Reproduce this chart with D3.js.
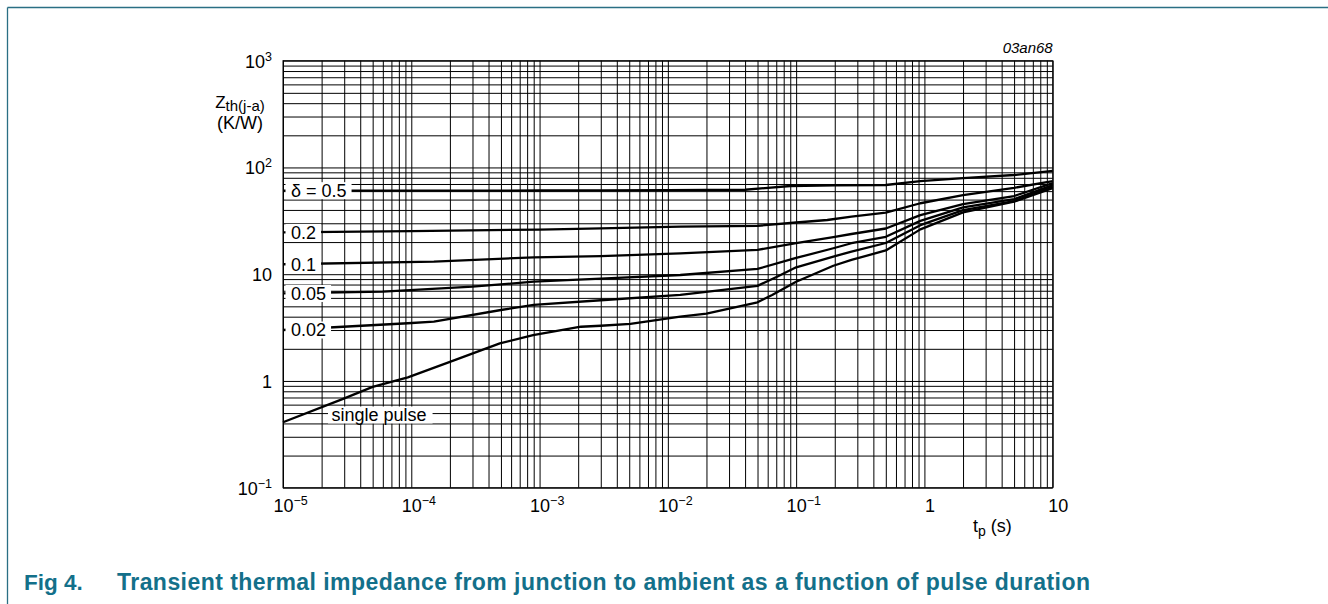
<!DOCTYPE html>
<html>
<head>
<meta charset="utf-8">
<script src="https://cdn.jsdelivr.net/npm/d3@7"></script>
<style>
  body { margin: 0; background: #fff; }
  svg { display: block; font-family: "Liberation Sans", Arial, Helvetica, sans-serif; }
</style>
</head>
<body>
<svg id="chart" width="1328" height="604"></svg>
<script>
// Transient thermal impedance Zth(j-a) (K/W) versus pulse duration tp (s), per duty cycle
const tp05  = [1e-5, 1e-4, 1e-3, 3e-3, 0.01, 0.04, 0.09, 0.2, 0.5, 0.93, 2, 5, 10];
const zth05 = [60.6, 60.6, 60.8, 61.0, 61.2, 61.8, 67.0, 68.0, 68.5, 74.5, 79.3, 85, 92.8];

const tp02  = [1e-5, 1e-4, 1e-3, 3e-3, 0.0125, 0.05, 0.1, 0.175, 0.27, 0.5, 0.93, 2, 5, 10];
const zth02 = [24.6, 25.3, 26.2, 26.9, 27.9, 28.4, 30.5, 32.2, 34.6, 37.7, 46.2, 55.1, 64.4, 74.6];

const tp01  = [1e-5, 1.5e-4, 9e-4, 3e-3, 0.0125, 0.05, 0.1, 0.195, 0.27, 0.5, 0.93, 2, 5, 10];
const zth01 = [12.4, 13.1, 14.4, 14.8, 15.7, 16.9, 19.5, 22.2, 23.8, 26.8, 35.8, 45.4, 54.0, 71.4];

const tp005  = [1e-5, 6e-5, 3e-4, 9e-4, 3e-3, 0.0125, 0.05, 0.1, 0.195, 0.27, 0.5, 0.93, 2, 5, 10];
const zth005 = [6.6, 6.86, 7.64, 8.51, 9.1, 9.83, 11.2, 14.2, 17.5, 19.5, 22.4, 31.6, 42.2, 50.5, 68.4];

const tp002  = [1e-5, 9.4e-5, 1.5e-4, 5e-4, 9e-4, 3e-3, 0.0125, 0.05, 0.071, 0.1, 0.195, 0.27, 0.5, 0.93, 2, 5, 10];
const zth002 = [3.0, 3.47, 3.59, 4.62, 5.15, 5.7, 6.39, 7.77, 9.48, 11.6, 14.6, 16.3, 19.6, 28.8, 39.9, 48.3, 66.2];

const tpSingle  = [1e-5, 2.94e-5, 5e-5, 9.4e-5, 2e-4, 4.9e-4, 8.9e-4, 2.1e-3, 3e-3, 5.1e-3, 0.0125, 0.02, 0.05, 0.065, 0.1, 0.195, 0.27, 0.5, 0.93, 2, 5, 10];
const zthSingle = [0.41, 0.68, 0.88, 1.08, 1.51, 2.25, 2.69, 3.22, 3.29, 3.42, 4.0, 4.27, 5.45, 6.39, 8.5, 12.0, 13.6, 16.7, 26.3, 37.9, 47.8, 64.1];

const curveLabels = ["\u03B4 = 0.5", "0.2", "0.1", "0.05", "0.02", "single pulse"];

// decade tick labels: [mantissa, exponent]
const xDecades = [1e-5, 1e-4, 1e-3, 1e-2, 1e-1, 1, 10];
const xTickLabels = [["10", "\u22125"], ["10", "\u22124"], ["10", "\u22123"], ["10", "\u22122"], ["10", "\u22121"], ["1", ""], ["10", ""]];
const yDecades = [0.1, 1, 10, 100, 1000];
const yTickLabels = [["10", "\u22121"], ["1", ""], ["10", ""], ["10", "2"], ["10", "3"]];

const series = [
  { t: tp05, z: zth05 },
  { t: tp02, z: zth02 },
  { t: tp01, z: zth01 },
  { t: tp005, z: zth005 },
  { t: tp002, z: zth002 },
  { t: tpSingle, z: zthSingle }
];

// ---- layout ----
const plotL = 283, plotR = 1052.7, plotT = 60.7, plotB = 487.7;
const svg = d3.select("#chart");

const x = d3.scaleLog().domain([1e-5, 10]).range([plotL, plotR]);
const y = d3.scaleLog().domain([0.1, 1000]).range([plotB, plotT]);

// full log grid: 1..9 in every decade
const xGrid = [];
for (let e = -5; e <= 0; e++) for (let k = 1; k <= 9; k++) xGrid.push(k * Math.pow(10, e));
xGrid.push(10);
const yGrid = [];
for (let e = -1; e <= 2; e++) for (let k = 1; k <= 9; k++) yGrid.push(k * Math.pow(10, e));
yGrid.push(1000);

// page frame
const teal = "#13708a";
svg.append("line").attr("x1", 7.5).attr("y1", 7.5).attr("x2", 1328).attr("y2", 7.5)
  .attr("stroke", "#2a6f84").attr("stroke-width", 1.3);
svg.append("line").attr("x1", 7.5).attr("y1", 7.5).attr("x2", 7.5).attr("y2", 604)
  .attr("stroke", "#2a6f84").attr("stroke-width", 1.3);

// grid lines through the library axes
const gx = svg.append("g").attr("transform", `translate(0,${plotB})`)
  .call(d3.axisBottom(x).tickValues(xGrid).tickSize(-(plotB - plotT)).tickFormat(""));
const gy = svg.append("g").attr("transform", `translate(${plotL},0)`)
  .call(d3.axisLeft(y).tickValues(yGrid).tickSize(-(plotR - plotL)).tickFormat(""));
[gx, gy].forEach(g => {
  g.select(".domain").remove();
  g.selectAll(".tick line").attr("stroke", "#000").attr("stroke-width", 1);
});

svg.append("rect").attr("x", plotL).attr("y", plotT)
  .attr("width", plotR - plotL).attr("height", plotB - plotT)
  .attr("fill", "none").attr("stroke", "#000").attr("stroke-width", 1);

// curves
const line = d3.line()
  .x(d => x(d[0])).y(d => y(d[1]));
series.forEach(s => {
  svg.append("path")
    .datum(s.t.map((t, i) => [t, s.z[i]]))
    .attr("d", line)
    .attr("fill", "none")
    .attr("stroke", "#000")
    .attr("stroke-width", 2.3)
    .attr("stroke-linejoin", "round");
});

// curve labels on white boxes at the start of each curve
const labelFont = 18;
function boxedLabel(text, tx, cy, padL, padR) {
  const g = svg.append("g");
  const rect = g.append("rect").attr("fill", "#fff");
  const t = g.append("text").attr("x", tx).attr("y", cy + labelFont * 0.36)
    .attr("font-size", labelFont).attr("fill", "#000").text(text);
  const w = t.node().getComputedTextLength();
  rect.attr("x", tx - padL).attr("y", cy - 8.5).attr("width", w + padL + padR).attr("height", 17);
}
series.slice(0, 5).forEach((s, i) => {
  boxedLabel(curveLabels[i], 291, y(s.z[0]), 5.5, 5);
});
boxedLabel(curveLabels[5], 331.5, 415, 3.5, 6);

// decade tick labels with superscript exponents
const tickFont = 18, supFont = 12.5;
const ax = svg.append("g").attr("transform", `translate(0,${plotB})`)
  .call(d3.axisBottom(x).tickValues(xDecades).tickSize(0).tickFormat(""));
ax.select(".domain").remove();
ax.selectAll(".tick").each(function (d, i) {
  const lab = xTickLabels[i];
  const t = d3.select(this).select("text")
    .attr("y", 24).attr("dy", null).attr("text-anchor", "start")
    .attr("font-size", tickFont).attr("font-family", null).attr("fill", "#000");
  t.append("tspan").text(lab[0]);
  const w = t.node().getComputedTextLength();
  t.attr("x", -w / 2 + (lab[1] ? 0 : 5));
  if (lab[1]) t.append("tspan").attr("font-size", supFont).attr("dy", -7).text(lab[1]);
});

const ay = svg.append("g").attr("transform", `translate(${plotL},0)`)
  .call(d3.axisLeft(y).tickValues(yDecades).tickSize(0).tickPadding(11).tickFormat(""));
ay.select(".domain").remove();
ay.selectAll(".tick").each(function (d, i) {
  const lab = yTickLabels[i];
  const t = d3.select(this).select("text")
    .attr("dy", null).attr("y", 6.5)
    .attr("font-size", tickFont).attr("font-family", null).attr("fill", "#000");
  t.append("tspan").text(lab[0]);
  if (lab[1]) t.append("tspan").attr("font-size", supFont).attr("dy", -7).text(lab[1]);
});

// axis titles
const yt = svg.append("text").attr("x", 240).attr("y", 108).attr("text-anchor", "middle")
  .attr("font-size", 17).attr("fill", "#000");
yt.append("tspan").text("Z");
yt.append("tspan").attr("font-size", 15).attr("dy", 3).text("th(j-a)");
svg.append("text").attr("x", 240).attr("y", 128.5).attr("text-anchor", "middle")
  .attr("font-size", 18).attr("fill", "#000").text("(K/W)");

const xt = svg.append("text").attr("x", 973).attr("y", 532)
  .attr("font-size", 18).attr("fill", "#000");
xt.append("tspan").text("t");
xt.append("tspan").attr("font-size", 14).attr("dy", 4).text("p");
xt.append("tspan").attr("dy", -4).text(" (s)");

svg.append("text").attr("x", plotR).attr("y", 53).attr("text-anchor", "end")
  .attr("font-size", 15).attr("font-style", "italic").attr("fill", "#000").text("03an68");

// figure caption
svg.append("text").attr("x", 24).attr("y", 590)
  .attr("font-size", 22.5).attr("font-weight", "bold").attr("fill", teal).text("Fig 4.");
svg.append("text").attr("x", 117).attr("y", 590)
  .attr("font-size", 23).attr("font-weight", "bold").attr("fill", teal)
  .attr("textLength", 973).attr("lengthAdjust", "spacing")
  .text("Transient thermal impedance from junction to ambient as a function of pulse duration");
</script>
</body>
</html>
